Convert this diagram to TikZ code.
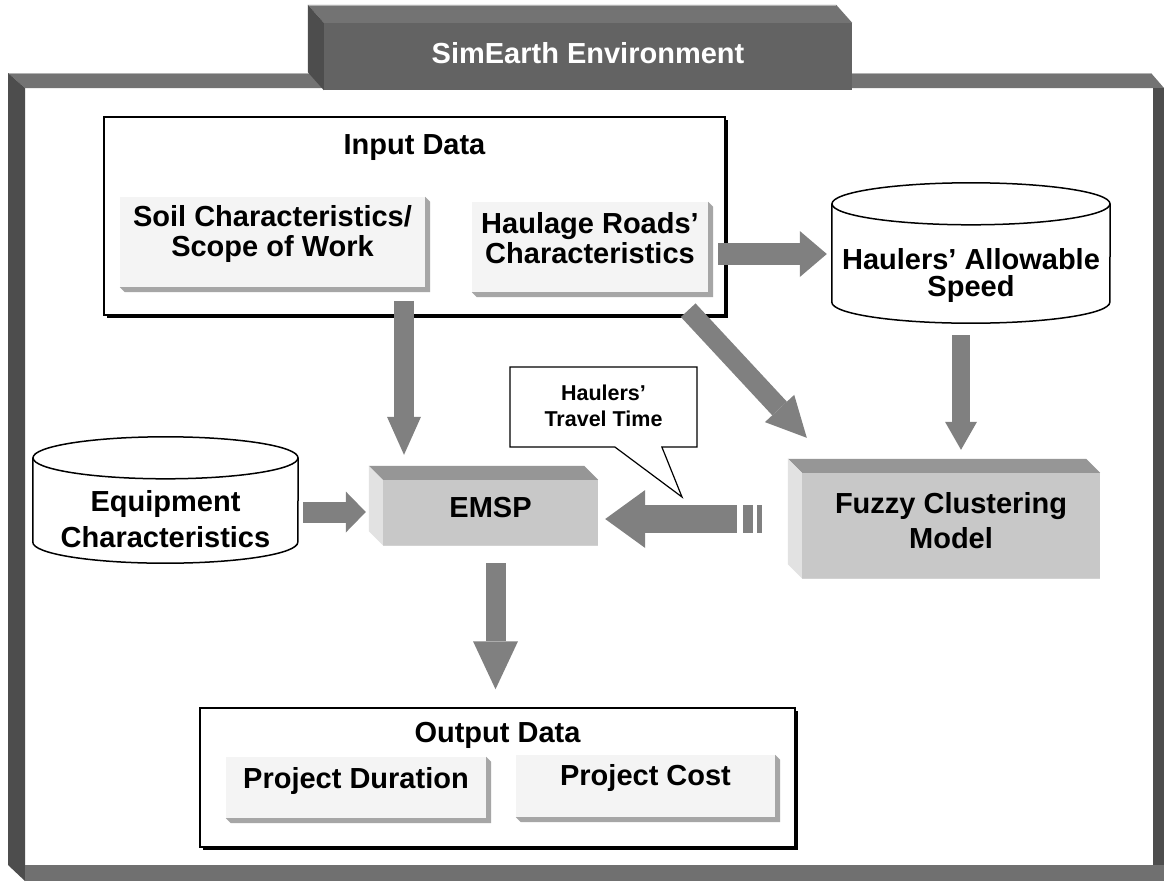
\documentclass[tikz,border=0pt]{standalone}
\usepackage{fontspec}
\setmainfont{Liberation Sans}
\usetikzlibrary{arrows.meta,positioning,shadows,shapes.callouts}

\definecolor{framedark}{HTML}{4D4D4D}
\definecolor{frametop}{HTML}{737373}
\definecolor{framebot}{HTML}{707070}
\definecolor{tabfront}{HTML}{636363}
\definecolor{flowgray}{HTML}{808080}
\definecolor{btnface}{HTML}{F4F4F4}
\definecolor{btnshade}{HTML}{A6A6A6}
\definecolor{boxfront}{HTML}{C8C8C8}
\definecolor{boxtop}{HTML}{969696}
\definecolor{boxside}{HTML}{E2E2E2}

\newcommand\lblfont{\fontsize{29}{30}\selectfont\bfseries}
\newcommand\callfont{\fontsize{21.5}{26}\selectfont\bfseries}
% text box of fixed size, text hung from the top
\newcommand\boxtxt[4]{\parbox[c][#2pt][t]{#1pt}{\centering\vspace*{#3pt}#4\par}}

\begin{document}
\begin{tikzpicture}
			[x=1pt,y=1pt,on grid,
			button/.style={fill=btnface,inner sep=0pt,font=\lblfont},
			panel/.style={draw,line width=1.5pt,fill=white,inner sep=0pt,font=\lblfont,
				drop shadow={shadow xshift=3pt,shadow yshift=-3pt,fill=black,opacity=1}},
			solid3d/.style={fill=boxfront,inner sep=0pt,font=\lblfont},
			db/.style={inner sep=0pt,font=\lblfont},
			dbline/.style={draw,line width=1.5pt},
			note/.style={rectangle callout,draw,fill=white,line width=1.2pt,inner sep=0pt,font=\callfont,
				callout absolute pointer={(682,-497)},callout pointer width=47pt},
			flow/.style n args={3}{draw=flowgray,line width=#1pt,
				-{Triangle[width=#2pt,length=#3pt,line width=0pt 0 0]}}]

			\useasboundingbox (0,0) rectangle (1164,-881);
			\fill[white] (0,0) rectangle (1164,-881);

			% environment frame
			\fill[frametop] (8,-73) -- (1151,-73) -- (1164,-88) -- (25,-88) -- cycle;
			\draw[gray!60,line width=1pt] (8,-73.5) -- (1151,-73.5);
			\fill[framedark] (8,-73) -- (25,-88) -- (25,-881) -- (8,-865) -- cycle;
			\fill[framedark] (1153,-88) rectangle (1164,-865);
			\fill[framebot] (25,-865) rectangle (1164,-881);

			\node [fill=tabfront,inner sep=0pt,text=white,font=\lblfont] (env) at (588,-56.5)
				{\boxtxt{528}{67}{19}{SimEarth Environment}};
			\fill[frametop] (env.north west) -- ++(-16,18) -- ([shift={(-16,18)}]env.north east) -- (env.north east) -- cycle;
			\draw[gray!60,line width=1pt] ([shift={(-16,17.5)}]env.north west) -- ([shift={(-16,17.5)}]env.north east);
			\fill[framedark] (env.north west) -- ++(-16,18) -- ([shift={(-16,18)}]env.south west) -- (env.south west) -- cycle;

			% input data
			\node [panel] (input) at (414.5,-216)          {\boxtxt{621}{198}{18}{Input Data}};
				\node [button] (soil) at (272.5,-242)       {\boxtxt{305}{90}{8}{Soil Characteristics/\\Scope of Work}};
				\node [button] (haul) [right=317.5pt of soil, yshift=-5pt] {\boxtxt{236}{90}{10}{Haulage Roads’\\Characteristics}};

			% output data
			\node [panel] (output) at (497.5,-777.5)       {\boxtxt{595}{139}{14}{Output Data}};
				\node [button] (dur) at (356,-787.5)        {\boxtxt{260}{61}{10}{Project Duration}};
				\node [button] (cost) [right=289.5pt of dur, yshift=1.5pt] {\boxtxt{259}{62}{9}{Project Cost}};

			\foreach \b in {soil,haul,dur,cost}
				\fill[btnshade] (\b.north east) -- ++(5,-5) -- ([shift={(5,-5)}]\b.south east)
					-- ([shift={(5,-5)}]\b.south west) -- (\b.south west) -- (\b.south east) -- cycle;

			% data stores
			\node [db] (speed) at (971,-253)    {\boxtxt{278}{140}{65}{Haulers’ Allowable\\[-3pt]Speed}};
			\node [db] (equip) at (165.5,-500)  {\boxtxt{265}{126}{53}{Equipment\\[6pt]Characteristics}};
			\foreach \b/\r in {speed/139,equip/132.5} {
				\draw[dbline] ([yshift=-21pt]\b.north west) -- ([yshift=21pt]\b.south west)
					arc[start angle=180,end angle=360,x radius=\r pt,y radius=21pt] -- ([yshift=-21pt]\b.north east);
				\draw[dbline] ([yshift=-21pt]\b.north) ellipse[x radius=\r pt,y radius=21pt];
			}

			% models
			\node [solid3d] (emsp) at (490.5,-512.5)  {\boxtxt{215}{65}{17}{EMSP}};
			\node [solid3d] (fuzzy) at (951,-525.5)   {\boxtxt{298}{105}{19}{Fuzzy Clustering\\[5pt]Model}};
			\foreach \b in {emsp,fuzzy} {
				\fill[boxtop] (\b.north west) -- ++(-14,14) -- ([shift={(-14,14)}]\b.north east) -- (\b.north east) -- cycle;
				\fill[boxside] (\b.north west) -- ++(-14,14) -- ([shift={(-14,14)}]\b.south west) -- (\b.south west) -- cycle;
				\draw[gray!35,line width=1pt] (\b.south west) -- (\b.south east);
			}

			% flows
			\draw[flow={22}{46}{27}] ([shift={(10,-7)}]haul.east) -- ([shift={(-5,-1)}]speed.west);
			\draw[flow={20}{34}{38}] ([shift={(-10.5,15)}]input.south) -- ([shift={(-86.5,25)}]emsp.north);
			\draw[flow={20}{40}{40}] ([shift={(-20,-18)}]haul.south east) -- ([shift={(5,35)}]fuzzy.north west);
			\draw[flow={18}{32}{28}] ([shift={(-10,-12)}]speed.south) -- ([shift={(10,23)}]fuzzy.north);
			\draw[flow={21}{41}{20}] ([shift={(5,-12)}]equip.east) -- ([shift={(-17,0.5)}]emsp.west);
			\draw[flow={28}{58}{40},dash pattern=on 5pt off 4pt on 10pt off 6pt on 400pt off 1pt]
				([shift={(-40,6.5)}]fuzzy.west) -- ([shift={(7,-6.5)}]emsp.east);
			\draw[flow={20}{45}{48}] ([shift={(5,-18)}]emsp.south) -- ([shift={(-2,18)}]output.north);

			\node [note] (travel) at (603.5,-407) {\boxtxt{187}{80}{18}{Haulers’\\Travel Time}};
\end{tikzpicture}
\end{document}
